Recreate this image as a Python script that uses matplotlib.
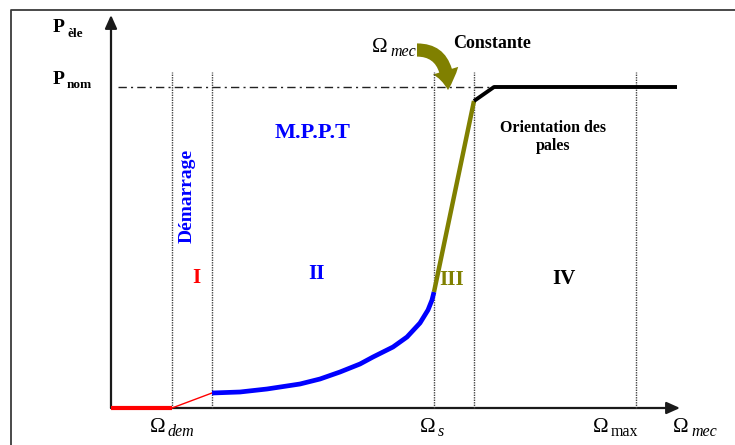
import matplotlib
matplotlib.use("Agg")
import matplotlib.pyplot as plt
from matplotlib.patches import FancyArrowPatch

# Speed landmarks on the horizontal axis (arbitrary units, origin at the axis corner)
omega_dem = 61
omega_mppt_start = 101
omega_s = 323
omega_blade = 363
omega_max = 525
omega_end = 566

# Power levels (arbitrary units)
p_nom = 321
p_mppt_start = 15

# Zone II: MPPT power curve
mppt_omega = [101, 129, 156, 189, 209, 229, 249, 262, 282, 296, 309, 317, 321, 323]
mppt_power = [15, 16, 19, 24, 29, 36, 44, 51, 61, 71, 85, 98, 108, 116]

# Zone III: constant speed ramp, zone IV: pitch-controlled plateau
ramp_omega = [omega_s, omega_blade]
ramp_power = [116, 307]
pitch_omega = [omega_blade, 383, omega_end]
pitch_power = [307, p_nom, p_nom]

zone_names = ["I", "II", "III", "IV"]
zone_colors = ["#ff0000", "#0000ff", "#808000", "#000000"]
zone_label_x = [85, 206, 341, 453]
zone_label_y = [130, 134, 128, 129]

SERIF = ["Liberation Serif", "DejaVu Serif"]
OLIVE = "#808000"
BLUE = "#0000ff"
RED = "#ff0000"

fig = plt.figure(figsize=(7.35, 4.45), dpi=100)
ax = fig.add_axes([0, 0, 1, 1])
ax.set_xlim(-111, 624)
ax.set_ylim(-37, 408)
ax.axis("off")

# Outer frame
ax.plot([-100, -100, 624], [-37, 398, 398], color="#3a3a3a", lw=1.3,
        solid_capstyle="butt")

# Axes with arrow heads
for end in [(0, 393), (569, 0)]:
    ax.add_patch(FancyArrowPatch((0, 0), end, arrowstyle="-|>,head_length=8,head_width=3.6",
                                 mutation_scale=1, color="#1a1a1a", lw=1.6,
                                 shrinkA=0, shrinkB=0))

# Zone boundaries
for om in [omega_dem, omega_mppt_start, omega_s, omega_blade, omega_max]:
    ax.plot([om, om], [0, 336], color="#444444", lw=1.0, ls=(0, (1, 0.8)))

# Rated power reference
ax.plot([7, omega_end], [p_nom, p_nom], color="#222222", lw=1.0,
        ls=(0, (6, 3, 1.5, 3)))

# Zone I: start-up
ax.plot([0, omega_dem], [0, 0], color=RED, lw=3, solid_capstyle="butt")
ax.plot([omega_dem, omega_mppt_start], [0, p_mppt_start], color=RED, lw=1)

# Zone II
ax.plot(mppt_omega, mppt_power, color=BLUE, lw=3.4, solid_capstyle="butt",
        solid_joinstyle="round")

# Zone III
ax.plot(ramp_omega, ramp_power, color=OLIVE, lw=3.2, solid_capstyle="butt")

# Zone IV
ax.plot(pitch_omega, pitch_power, color="black", lw=2.8, solid_capstyle="butt")

# Curved "constant speed" arrow
ax.add_patch(FancyArrowPatch((306, 358), (337, 318),
                             connectionstyle="angle3,angleA=0,angleB=90",
                             arrowstyle="simple,head_length=14,head_width=19,tail_width=9.5",
                             mutation_scale=1, color=OLIVE, lw=0,
                             shrinkA=0, shrinkB=0))

# Zone numbers
for name, col, x, y in zip(zone_names, zone_colors, zone_label_x, zone_label_y):
    ax.text(x, y, name, color=col, fontsize=15, fontweight="bold",
            family=SERIF, ha="center", va="center")

ax.text(202, 275, "M.P.P.T", color=BLUE, fontsize=16, fontweight="bold",
        family=SERIF, ha="center", va="center")
ax.text(76, 212, "Démarrage", color=BLUE, fontsize=14, fontweight="bold",
        family=SERIF, ha="center", va="center", rotation=90)
ax.text(442, 271, "Orientation des\npales", color="black", fontsize=11.5,
        fontweight="bold", family=SERIF, ha="center", va="center",
        linespacing=1.25)
ax.text(381, 365, "Constante", color="black", fontsize=13, fontweight="bold",
        family=SERIF, ha="center", va="center")


def power_label(x, y, sub):
    ax.text(x, y, "P", fontsize=14, fontweight="bold", family=SERIF,
            ha="left", va="center")
    ax.text(x + 14, y - 6, sub, fontsize=9.5, fontweight="bold", family=SERIF,
            ha="left", va="center")


power_label(-58, 380, "èle")
power_label(-58, 329, "nom")


def omega_label(x, y, sub, italic=True):
    ax.text(x, y, "Ω", fontsize=15, family=SERIF, ha="left", va="center")
    ax.text(x + 18, y - 5, sub, fontsize=11.5, family=SERIF,
            style="italic" if italic else "normal", ha="left", va="center")


omega_label(39, -19, "dem")
omega_label(309, -19, "s")
omega_label(482, -19, "max", italic=False)
omega_label(562, -19, "mec")
omega_label(261, 361, "mec")

fig.savefig("out.png", dpi=100)
